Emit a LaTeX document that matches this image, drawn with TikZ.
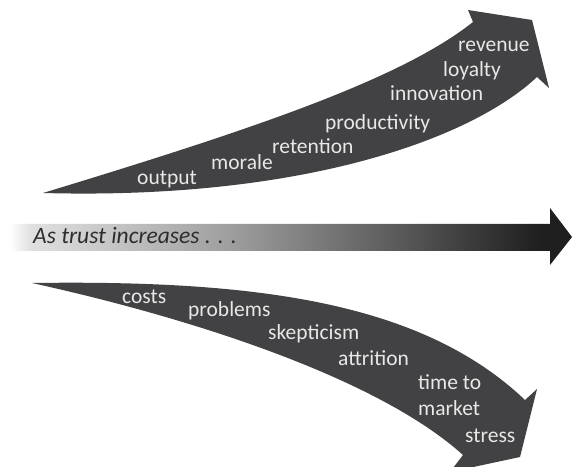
\documentclass[tikz,border=0pt]{standalone}
\usepackage{fontspec}
\setmainfont{Carlito}
\usetikzlibrary{positioning}
\definecolor{arrowgray}{RGB}{66,66,68}
\definecolor{labelgray}{RGB}{232,232,232}
\definecolor{trustgray}{RGB}{45,45,45}
\pgfdeclarehorizontalshading{trustfade}{100bp}{
  color(0bp)=(white); color(25bp)=(white);
  color(26.8bp)=(black!12); color(44.6bp)=(black!38);
  color(59.7bp)=(black!65); color(72.2bp)=(black!88);
  color(75bp)=(black!88); color(100bp)=(black!88)}

\begin{document}
\begin{tikzpicture}[x=1bp,y=-1bp,
  trend/.style={fill=arrowgray},
  lbl/.style={anchor=base west,inner sep=0pt,text=labelgray,
    font=\fontsize{21.5bp}{24bp}\selectfont}]
\useasboundingbox (0,0) rectangle (572,467);
\clip (0,0) rectangle (572,467);
% rising arrow
\fill[trend] (43,193) .. controls (250,130) and (400,80) .. (473,22)
  -- (468,10) -- (532,20) -- (549,88) -- (537,77)
  .. controls (470,140) and (300,200) .. (43,193) -- cycle;
% falling arrow
\fill[trend] (32,283) .. controls (250,280) and (420,300) .. (525,400)
  -- (537,389) -- (520,457) -- (450,472) -- (463,455)
  .. controls (380,380) and (200,320) .. (32,283) -- cycle;
% trust arrow
\shade[shading=trustfade]
  (10,224) -- (550,224) -- (550,208) -- (572,237) -- (550,265)
  -- (550,251) -- (10,251) -- cycle;
\node[lbl,text=trustgray,font=\fontsize{23.5bp}{26bp}\selectfont\itshape]
  (trust) at (33,244) {As trust increases . . .};
% gains
\node[lbl] (output) at (137,185) {output};
\node[lbl] (morale) at (211,170) {morale};
\node[lbl] (retention) at (272,154) {retention};
\node[lbl] (productivity) at (325,130) {productivity};
\node[lbl] (innovation) at (390,101) {innovation};
\node[lbl] (loyalty) at (443,77) {loyalty};
\node[lbl] (revenue) at (458,52) {revenue};
% losses
\node[lbl] (costs) at (122,303) {costs};
\node[lbl] (problems) at (188,316) {problems};
\node[lbl] (skepticism) at (268,339) {skepticism};
\node[lbl] (attrition) at (338,365) {attrition};
\node[lbl] (timeto) at (418,389) {time to};
\node[lbl] (market) at (418,415) {market};
\node[lbl] (stress) at (465,442) {stress};
\end{tikzpicture}
\end{document}
